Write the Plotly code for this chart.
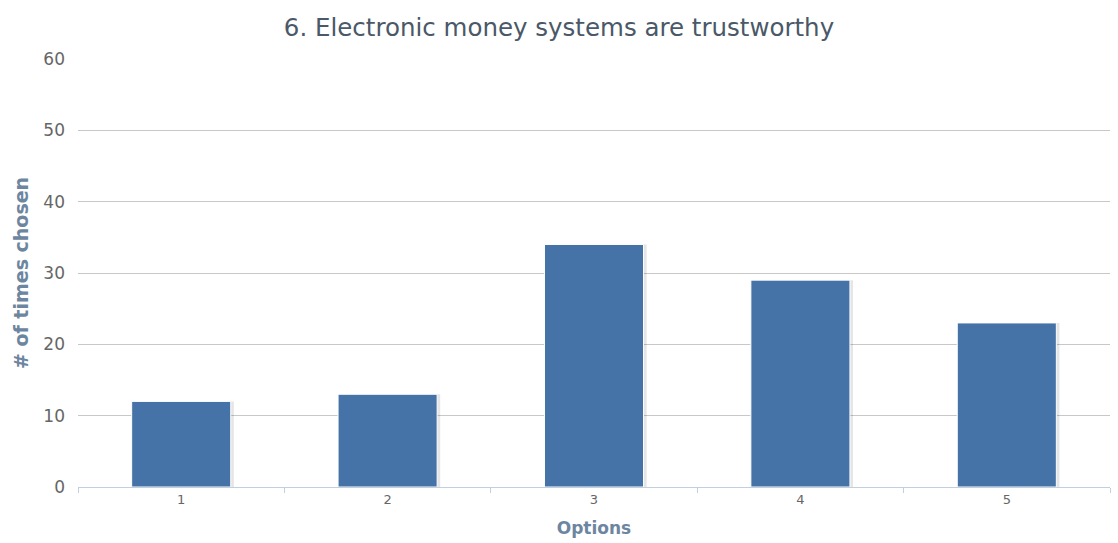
import plotly.graph_objects as go

# Survey responses for statement 6
options = ["1", "2", "3", "4", "5"]
times_chosen = [12, 13, 34, 29, 23]

title_text = "6. Electronic money systems are trustworthy"
x_title = "Options"
y_title = "# of times chosen"
y_ticks = [0, 10, 20, 30, 40, 50, 60]

FONT = "DejaVu Sans, Verdana, sans-serif"

fig = go.Figure()

# soft drop shadow behind each column
fig.add_trace(go.Bar(
    x=options, y=times_chosen,
    marker=dict(color="rgba(0,0,0,0.10)", line=dict(width=0)),
    width=0.49, offset=-0.235,
    hoverinfo="skip", showlegend=False,
))

fig.add_trace(go.Bar(
    x=options, y=times_chosen,
    marker=dict(color="#4572A7", line=dict(color="#FFFFFF", width=1)),
    width=0.48, offset=-0.24,
    showlegend=False,
))

fig.update_layout(
    width=1118, height=543,
    margin=dict(l=78, r=8, t=59, b=56),
    paper_bgcolor="white", plot_bgcolor="white",
    font=dict(family=FONT, color="#666666", size=13),
    title=dict(text=title_text, x=0.5, xanchor="center", y=0.95, yanchor="middle",
               font=dict(size=24.5, color="#4A5868", family=FONT)),
    barmode="overlay",
    bargap=0.5,
)

fig.update_xaxes(
    type="category",
    showgrid=False,
    showline=True, linecolor="#C0D0E0", linewidth=1,
    ticks="outside", tickson="boundaries", ticklen=5, tickcolor="#C0D0E0",
    tickfont=dict(size=13, color="#666666"),
    title=dict(text=x_title, standoff=16,
               font=dict(size=17, color="#6D869F", family=FONT, weight="bold")),
)

fig.update_yaxes(
    range=[0, 60],
    tickvals=y_ticks,
    showgrid=True, gridcolor="#C8C8C8", gridwidth=1,
    zeroline=False, showline=False,
    ticks="", ticklabelstandoff=12,
    tickfont=dict(size=17, color="#666666"),
    title=dict(text=y_title, standoff=9,
               font=dict(size=19, color="#6D869F", family=FONT, weight="bold")),
)

fig.write_html("out.html")
